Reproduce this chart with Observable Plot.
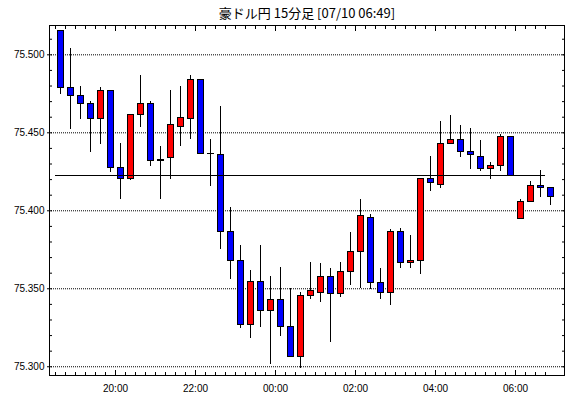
<!DOCTYPE html>
<html><head><meta charset="utf-8">
<script src="https://cdn.jsdelivr.net/npm/d3@7"></script>
<script src="https://cdn.jsdelivr.net/npm/@observablehq/plot@0.6"></script>
<style>html,body{margin:0;padding:0;background:#fff;}</style>
</head><body><div id="chart"></div>
<script>
const title = "豪ドル円 15分足 [07/10 06:49]";
const firstCandle = "2024-07-09T18:30:00Z";
const opens  = [75.515,75.479,75.4737,75.4686,75.4587,75.4769,75.4276,75.4203,75.4615,75.4686,
                75.4323,75.434,75.4538,75.4587,75.484,75.4365,75.4359,75.3865,75.3679,75.3269,
                75.3545,75.3359,75.3429,75.3256,75.306,75.3455,75.3474,75.3577,75.3465,75.3609,
                75.3737,75.3955,75.3538,75.3474,75.3865,75.3667,75.3679,75.4205,75.4167,75.4429,
                75.4455,75.4378,75.4346,75.4269,75.4288,75.4474,75.3949,75.4058,75.416,75.4147];
const highs  = [75.515,75.504,75.480,75.470,75.479,75.4769,75.4433,75.4615,75.4867,75.4699,
                75.4412,75.4771,75.4797,75.4867,75.484,75.4457,75.4668,75.4021,75.3778,75.3617,
                75.3778,75.3579,75.3637,75.350,75.3474,75.367,75.3662,75.3628,75.3669,75.3861,
                75.4072,75.3976,75.3628,75.3878,75.3887,75.3842,75.4205,75.4348,75.4572,75.4611,
                75.4547,75.4528,75.4451,75.431,75.4487,75.4474,75.4072,75.4188,75.4258,75.4147];
const lows   = [75.4746,75.4519,75.4585,75.4376,75.4427,75.4247,75.407,75.4196,75.4536,75.4286,
                75.407,75.4203,75.4414,75.4455,75.4367,75.4158,75.3754,75.3562,75.3247,75.3183,
                75.3254,75.3017,75.3196,75.306,75.2987,75.3429,75.341,75.3158,75.3446,75.3523,
                75.350,75.3497,75.3429,75.3393,75.3632,75.3632,75.3594,75.4126,75.4145,75.4429,
                75.4344,75.4267,75.4254,75.4203,75.4254,75.4224,75.3949,75.4058,75.4087,75.4036];
const closes = [75.4788,75.4735,75.4683,75.4587,75.4769,75.4273,75.4203,75.4615,75.4686,75.432,
                75.432,75.4547,75.4592,75.484,75.4367,75.4362,75.3863,75.3679,75.3269,75.3545,
                75.3359,75.3429,75.3256,75.306,75.3455,75.3487,75.3577,75.3465,75.3609,75.3737,
                75.3968,75.354,75.3474,75.3865,75.3667,75.3679,75.4205,75.4179,75.4429,75.4455,
                75.4378,75.4359,75.4269,75.4288,75.4474,75.4224,75.4058,75.416,75.4147,75.409];
const yTickLabels = [75.300, 75.350, 75.400, 75.450, 75.500];
const xTickLabels = ["20:00", "22:00", "00:00", "02:00", "04:00", "06:00"];
const refLevel = 75.4224;

const t0 = new Date(firstCandle);
const data = opens.map((o, i) => ({
  t: d3.utcMinute.offset(t0, 15 * i),
  open: o, high: highs[i], low: lows[i], close: closes[i]
}));
const mid = d => new Date(+d.t + 7.5 * 60000);
const xMajor = xTickLabels.map(s => {
  const [h, m] = s.split(":").map(Number);
  return new Date(Date.UTC(2024, 6, h >= 12 ? 9 : 10, h, m));
});
const xMinor = data.map(d => d.t);
const yMinor = d3.range(0, 22).map(i => Math.round((75.30 + i * 0.01) * 1000) / 1000);

const chart = Plot.plot({
  width: 570,
  height: 398,
  marginLeft: 49,
  marginRight: 6,
  marginTop: 25,
  marginBottom: 23,
  style: {fontFamily: "'Liberation Sans', Arial, sans-serif", fontSize: "10px", background: "white", color: "black"},
  x: {type: "utc", domain: [new Date("2024-07-09T18:21:00Z"), new Date("2024-07-10T07:13:30Z")]},
  y: {domain: [75.2944, 75.5188]},
  marks: [
    Plot.gridY(yTickLabels, {stroke: "black", strokeOpacity: 1, strokeDasharray: "1,1"}),
    Plot.ruleX(data, {x: mid, y1: "low", y2: "high", stroke: "black", shapeRendering: "crispEdges"}),
    Plot.rect(data, {
      x1: "t", x2: d => d3.utcMinute.offset(d.t, 15),
      y1: "open", y2: "close",
      insetLeft: 2, insetRight: 2,
      fill: d => d.close > d.open ? "#ff0000" : "#0000ff",
      stroke: "black", shapeRendering: "crispEdges"
    }),
    Plot.ruleY([refLevel], {x1: data[0].t, x2: data[data.length - 1].t, stroke: "black", shapeRendering: "crispEdges"}),
    Plot.frame({stroke: "black", shapeRendering: "crispEdges"}),
    // y axis labels and ticks
    Plot.axisY(yTickLabels, {anchor: "left", tickSize: 0, tickPadding: 5, tickFormat: d3.format(".3f"), stroke: "none", label: null}),
    Plot.axisY(yTickLabels, {anchor: "left", tickSize: 2, fill: "none", label: null}),
    Plot.axisY(yMinor, {anchor: "left", tickSize: -3, fill: "none", label: null}),
    Plot.axisY(yMinor, {anchor: "right", tickSize: -3, fill: "none", label: null}),
    // x axis labels and ticks
    Plot.axisX(xMajor, {anchor: "bottom", tickSize: 0, tickPadding: 9, tickFormat: d3.utcFormat("%H:%M"), stroke: "none", label: null}),
    Plot.axisX(xMinor, {anchor: "bottom", tickSize: -3, fill: "none", label: null}),
    Plot.axisX(xMajor, {anchor: "bottom", tickSize: -5, fill: "none", label: null}),
    Plot.axisX(xMinor, {anchor: "top", tickSize: -3, fill: "none", label: null}),
    Plot.axisX(xMajor, {anchor: "top", tickSize: -5, fill: "none", label: null}),
    Plot.text([title], {frameAnchor: "top", dy: -12, lineAnchor: "middle", fontSize: 13,
      fontFamily: "'Noto Sans CJK JP', sans-serif", fill: "black"})
  ]
});
document.getElementById("chart").append(chart);
</script>
</body></html>
